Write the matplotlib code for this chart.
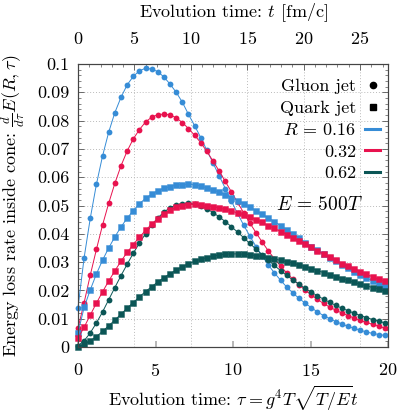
import numpy as np
import matplotlib
matplotlib.use("Agg")
import matplotlib.pyplot as plt
from matplotlib.lines import Line2D
from matplotlib.ticker import MultipleLocator, FuncFormatter

plt.rcParams['font.family'] = ['cmr10', 'DejaVu Serif']
plt.rcParams['mathtext.fontset'] = 'cm'
plt.rcParams['axes.formatter.use_mathtext'] = True
plt.rcParams['axes.unicode_minus'] = False

# sampling in tau (evolution time)
tau = np.round(np.arange(51) * 0.396, 3)

# Gluon jets (circles)
gluon_016 = [0.0139, 0.0316, 0.0455, 0.0575, 0.0675, 0.0759, 0.0828, 0.0882, 0.0926, 0.0956,
             0.0976, 0.0985, 0.0982, 0.0973, 0.0954, 0.0929, 0.0900, 0.0865, 0.0822, 0.0782,
             0.0740, 0.0695, 0.0650, 0.0605, 0.0560, 0.0515, 0.0472, 0.0430, 0.0392, 0.0355,
             0.0322, 0.0290, 0.0262, 0.0236, 0.0212, 0.0191, 0.0172, 0.0155, 0.0139, 0.0124,
             0.0111, 0.0100, 0.0090, 0.0081, 0.0073, 0.0066, 0.0059, 0.0053, 0.0048, 0.0044,
             0.0041]
gluon_032 = [0.0066, 0.0157, 0.0254, 0.0345, 0.0431, 0.0508, 0.0578, 0.0640, 0.0692, 0.0735,
             0.0768, 0.0795, 0.0812, 0.0821, 0.0823, 0.0820, 0.0810, 0.0793, 0.0772, 0.0748,
             0.0722, 0.0691, 0.0657, 0.0622, 0.0585, 0.0548, 0.0511, 0.0474, 0.0438, 0.0404,
             0.0371, 0.0340, 0.0312, 0.0286, 0.0262, 0.0240, 0.0220, 0.0201, 0.0184, 0.0168,
             0.0154, 0.0141, 0.0130, 0.0120, 0.0111, 0.0102, 0.0094, 0.0087, 0.0080, 0.0073,
             0.0067]
gluon_062 = [0.0005, 0.0022, 0.0050, 0.0085, 0.0124, 0.0167, 0.0210, 0.0252, 0.0292, 0.0331,
             0.0367, 0.0400, 0.0430, 0.0456, 0.0477, 0.0492, 0.0502, 0.0507, 0.0508, 0.0505,
             0.0498, 0.0488, 0.0475, 0.0460, 0.0443, 0.0425, 0.0406, 0.0386, 0.0366, 0.0346,
             0.0326, 0.0307, 0.0288, 0.0270, 0.0253, 0.0237, 0.0222, 0.0207, 0.0194, 0.0181,
             0.0169, 0.0158, 0.0147, 0.0137, 0.0128, 0.0119, 0.0111, 0.0104, 0.0097, 0.0091,
             0.0085]

# Quark jets (squares)
quark_016 = [0.0050, 0.0140, 0.0202, 0.0258, 0.0307, 0.0350, 0.0389, 0.0424, 0.0455, 0.0482,
             0.0506, 0.0525, 0.0540, 0.0552, 0.0561, 0.0567, 0.0572, 0.0574, 0.0575, 0.0573,
             0.0569, 0.0562, 0.0555, 0.0547, 0.0538, 0.0528, 0.0517, 0.0506, 0.0494, 0.0482,
             0.0469, 0.0456, 0.0443, 0.0429, 0.0414, 0.0399, 0.0384, 0.0369, 0.0355, 0.0342,
             0.0329, 0.0316, 0.0303, 0.0290, 0.0278, 0.0266, 0.0255, 0.0244, 0.0234, 0.0224,
             0.0215]
quark_032 = [0.0031, 0.0070, 0.0113, 0.0155, 0.0195, 0.0233, 0.0269, 0.0303, 0.0334, 0.0362,
             0.0388, 0.0412, 0.0434, 0.0454, 0.0470, 0.0484, 0.0494, 0.0500, 0.0503, 0.0504,
             0.0503, 0.0500, 0.0496, 0.0491, 0.0486, 0.0480, 0.0474, 0.0467, 0.0459, 0.0450,
             0.0440, 0.0429, 0.0419, 0.0408, 0.0397, 0.0386, 0.0375, 0.0364, 0.0352, 0.0340,
             0.0328, 0.0317, 0.0306, 0.0295, 0.0285, 0.0275, 0.0266, 0.0257, 0.0248, 0.0240,
             0.0232]
quark_062 = [0.0000, 0.0010, 0.0022, 0.0037, 0.0055, 0.0075, 0.0095, 0.0116, 0.0137, 0.0157,
             0.0177, 0.0196, 0.0213, 0.0230, 0.0245, 0.0259, 0.0272, 0.0284, 0.0294, 0.0303,
             0.0310, 0.0316, 0.0321, 0.0325, 0.0328, 0.0329, 0.0329, 0.0328, 0.0326, 0.0323,
             0.0320, 0.0316, 0.0311, 0.0306, 0.0301, 0.0296, 0.0290, 0.0284, 0.0277, 0.0270,
             0.0263, 0.0256, 0.0249, 0.0242, 0.0235, 0.0228, 0.0222, 0.0216, 0.0210, 0.0204,
             0.0198]

radii = ["0.16", "0.32", "0.62"]
colors = ["#368cd6", "#e8124e", "#0b5656"]
gluon = [gluon_016, gluon_032, gluon_062]
quark = [quark_016, quark_032, quark_062]

t_per_tau = 25 / 18.19  # fm/c per unit tau

fig = plt.figure(figsize=(4.15, 4.15), dpi=100)
ax = fig.add_axes([78/415, 68/415, 310/415, 283/415])
ax2 = ax.twiny()

ax.set_xlim(0, 20)
ax.set_ylim(0, 0.1)
ax2.set_xlim(0, 20 * t_per_tau)

# layering: twin (with vertical grid) below main data axes
ax.set_zorder(ax2.get_zorder() + 1)
ax.patch.set_visible(False)

for c, g in zip(colors, gluon):
    ax.plot(tau, g, '-', color=c, lw=0.7, marker='o', ms=4.2, mew=0, clip_on=False)
for c, q in zip(colors, quark):
    ax.plot(tau, q, '-', color=c, lw=0.7, marker='s', ms=4.4, mew=0.5,
            mec=matplotlib.colors.to_rgba(c, 0.6), clip_on=False)

# grids
ax.yaxis.grid(True, linestyle=(0, (1, 2)), color='#bbbbbb', lw=0.7)
ax.set_axisbelow(True)
ax2.xaxis.grid(True, linestyle=(0, (1, 2)), color='#bbbbbb', lw=0.7)

# ticks
ax.xaxis.set_major_locator(MultipleLocator(5))
ax.yaxis.set_major_locator(MultipleLocator(0.01))
ax.yaxis.set_minor_locator(MultipleLocator(0.002))
ax.yaxis.set_major_formatter(FuncFormatter(lambda v, p: "0" if abs(v) < 1e-9 else ("%.2f" % v).rstrip('0')))
ax.tick_params(axis='y', which='both', direction='in', left=True, right=True, color='#555555')
ax.tick_params(axis='y', which='major', length=4, width=0.6, pad=6, labelsize=13)
ax.tick_params(axis='y', which='minor', length=2.2, width=0.5)
ax.tick_params(axis='x', which='major', direction='in', top=False, bottom=True, length=4,
               width=1.2, color='#aaaaaa', pad=11, labelsize=13)

ax2.xaxis.set_major_locator(MultipleLocator(5))
ax2.xaxis.set_minor_locator(MultipleLocator(1))
ax2.tick_params(axis='x', which='both', direction='in', color='#555555')
ax2.tick_params(axis='x', which='major', length=4, width=0.6, pad=12, labelsize=13)
ax2.tick_params(axis='x', which='minor', length=2.5, width=0.5)

for a in (ax, ax2):
    for s in a.spines.values():
        s.set_color('#444444')
        s.set_linewidth(0.8)

ax.set_xlabel(r"Evolution time: $\tau = g^4T\sqrt{T/E}t$", fontsize=13)
ax.xaxis.set_label_coords(0.5, -0.13)
ax2.set_xlabel(r"Evolution time: $t$ [fm/c]", fontsize=13)
ax2.xaxis.set_label_coords(0.5, 1.165)
ax.set_ylabel(r"Energy loss rate inside cone: $\frac{d}{d\tau}E(R,\tau)$", fontsize=13)
ax.yaxis.set_label_coords(-0.165, 0.5)

ax.text(15.6, 0.0502, r"$E\,=\,500T$", fontsize=14, ha='center', va='center')

handles = [Line2D([], [], ls='none', marker='o', color='black', ms=4.5),
           Line2D([], [], ls='none', marker='s', color='black', ms=4.5)]
labels = ["Gluon jet", "Quark jet"]
for i, (r, c) in enumerate(zip(radii, colors)):
    handles.append(Line2D([], [], color=c, lw=2.2))
    labels.append(r"$R\,=\,%s$" % r if i == 0 else r)
leg = ax.legend(handles, labels, loc='upper right', bbox_to_anchor=(0.975, 0.948),
                frameon=False, markerfirst=False, fontsize=13, handlelength=0.85,
                handletextpad=0.5, labelspacing=0.33, borderpad=0, borderaxespad=0)

fig.savefig("out.png", dpi=100)
